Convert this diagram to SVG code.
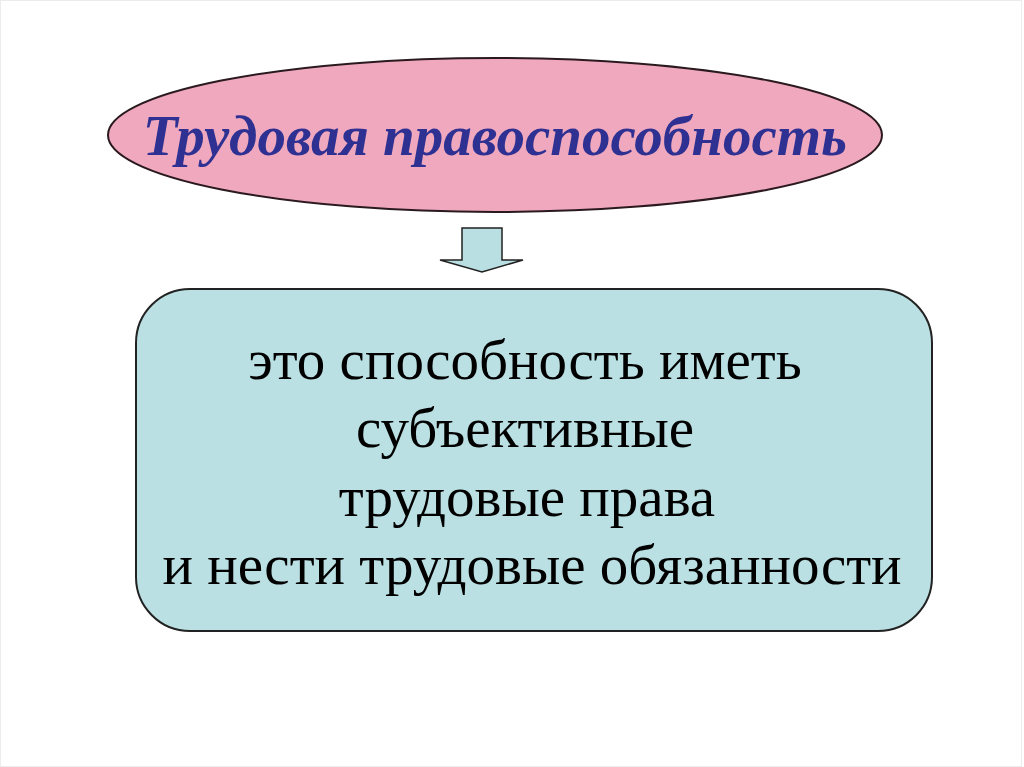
<svg xmlns="http://www.w3.org/2000/svg" width="1024" height="767" viewBox="0 0 1024 767">
<style>
.title{font-family:"Liberation Serif",serif;font-weight:bold;font-style:italic;font-size:57px;fill:#2e3192;text-anchor:middle}
.body{font-family:"Liberation Serif",serif;font-size:57px;fill:#000;text-anchor:middle}
</style>
<rect x="0" y="0" width="1024" height="767" fill="#fff"/>
<rect x="0.5" y="0.5" width="1021" height="766" fill="none" stroke="#ececec" stroke-width="1"/>
<g id="node-title">
<ellipse cx="495" cy="135" rx="387" ry="77" fill="#f0a8be" stroke="#2a1a1f" stroke-width="2"/>
<text class="title" x="495" y="155">Трудовая правоспособность</text>
</g>
<g id="connectors">
<polygon points="462,228 502,228 502,260 523,260 482,272 440,260 462,260" fill="#b9dfe3" stroke="#222" stroke-width="1.5"/>
</g>
<g id="node-definition">
<rect x="136" y="289" width="796" height="342" rx="54" ry="54" fill="#bbe0e3" stroke="#222" stroke-width="2"/>
<text class="body" x="525" y="379">это способность иметь</text>
<text class="body" x="525" y="447">субъективные</text>
<text class="body" x="527" y="516">трудовые права</text>
<text class="body" x="532" y="584">и нести трудовые обязанности</text>
</g>
</svg>
